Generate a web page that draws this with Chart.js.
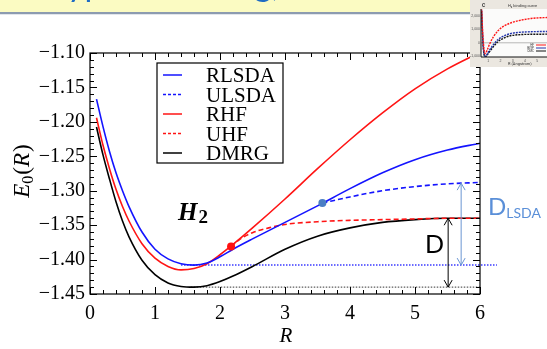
<!DOCTYPE html>
<html>
<head>
<meta charset="utf-8">
<script src="https://cdn.jsdelivr.net/npm/chart.js@4"></script>
<style>
html, body { margin: 0; padding: 0; background: #fff; }
#wrap { position: relative; width: 547px; height: 349px; overflow: hidden; }
#chart { position: absolute; left: 0; top: 0; }
#inset { position: absolute; left: 470px; top: 0; }
</style>
</head>
<body>
<div id="wrap">
<canvas id="chart" width="547" height="349"></canvas>
<canvas id="inset" width="77" height="67"></canvas>
</div>
<script>
// H2 binding curves
var rGrid = [0.1, 0.2, 0.3, 0.4, 0.5, 0.6, 0.8, 1.0, 1.2, 1.4, 1.6, 1.8, 2.0, 2.2, 2.5, 3.0, 3.5, 4.0, 4.5, 5.0, 5.5, 6.0];
var rlsda = [-1.167, -1.207, -1.243, -1.274, -1.300, -1.323, -1.360, -1.385, -1.399, -1.406, -1.408, -1.405, -1.396, -1.385, -1.370, -1.346, -1.322, -1.297, -1.274, -1.255, -1.241, -1.231];
var rhf = [-1.194, -1.234, -1.268, -1.298, -1.323, -1.344, -1.377, -1.398, -1.410, -1.415, -1.413, -1.406, -1.393, -1.378, -1.354, -1.312, -1.268, -1.226, -1.187, -1.152, -1.123, -1.099];
var dmrg = [-1.2075, -1.248, -1.283, -1.316, -1.344, -1.367, -1.401, -1.422, -1.434, -1.439, -1.440, -1.438, -1.432, -1.424, -1.410, -1.385, -1.366, -1.354, -1.346, -1.342, -1.340, -1.340];

var rUlsda = [3.575, 4.0, 4.5, 5.0, 5.5, 6.0];
var ulsda = [-1.318, -1.309, -1.300, -1.294, -1.290, -1.288];
var rUhf = [2.17, 2.3, 2.5, 2.75, 3.0, 3.5, 4.0, 4.5, 5.0, 5.5, 6.0];
var uhf = [-1.381, -1.371, -1.361, -1.354, -1.349, -1.345, -1.343, -1.342, -1.341, -1.340, -1.340];

var lsdaSplit = [3.575, -1.318];
var hfSplit = [2.17, -1.381];

var lsdaLevel = -1.408, lsdaLevelR = [1.4, 6.26];
var dmrgLevel = -1.440, dmrgLevelR = [1.55, 6.0];
var dmrgArrow = [5.51, -1.340, -1.440];
var lsdaArrow = [5.71, -1.289, -1.408];

var xTicks = [0, 1, 2, 3, 4, 5, 6];
var yTicks = [-1.45, -1.40, -1.35, -1.30, -1.25, -1.20, -1.15, -1.10];

// inset (small picture in the corner)
var insetR = [0.45, 0.55, 0.65, 0.75, 0.9, 1.1, 1.4, 1.8, 2.3, 2.8, 3.5, 4.5, 6.0];
var insetHF = [2600, 600, -500, -800, -550, -100, 420, 900, 1250, 1460, 1640, 1800, 1880];
var insetBLYP = [2400, 200, -800, -1000, -850, -550, -150, 250, 520, 680, 770, 820, 840];
var insetDMC = [2300, 100, -850, -1020, -900, -650, -300, 100, 360, 520, 600, 630, 640];
var insetXTicks = [1, 2, 3, 4, 5];
var insetYTicks = [-1000, 0, 1000, 2000];

var serif = 'Liberation Serif';
var BLUE = '#1414ff', RED = '#ff1414';

function pts(xs, ys) {
    return xs.map((x, i) => ({x: x, y: ys[i]}));
}

function curve(label, xs, ys, color, dash) {
    return {
        label: label, inLegend: true,
        data: pts(xs, ys),
        borderColor: color, borderWidth: 1.6, borderDash: dash,
        pointRadius: 0, cubicInterpolationMode: 'monotone', fill: false
    };
}

function drawParts(c, parts, x, y) {
    parts.forEach(p => {
        c.font = p.font;
        c.fillText(p.t, x, y + (p.dy || 0));
        x += c.measureText(p.t).width + (p.gap || 0);
    });
}

function partsWidth(c, parts) {
    var w = 0;
    parts.forEach(p => { c.font = p.font; w += c.measureText(p.t).width + (p.gap || 0); });
    return w;
}

function arrow(c, x, y1, y2, color) {
    c.save();
    c.strokeStyle = color;
    c.lineWidth = 1;
    c.beginPath();
    c.moveTo(x, y1); c.lineTo(x, y2);
    c.moveTo(x - 4, y1 + 7); c.lineTo(x, y1); c.lineTo(x + 4, y1 + 7);
    c.moveTo(x - 4, y2 - 7); c.lineTo(x, y2); c.lineTo(x + 4, y2 - 7);
    c.stroke();
    c.restore();
}

var decor = {
    id: 'decor',
    beforeDraw(chart) {
        var c = chart.ctx;
        c.save();
        c.fillStyle = '#fff';
        c.fillRect(0, 0, chart.width, chart.height);
        // slide banner: only the descenders of its title peek into view
        c.fillStyle = '#fbfbc2';
        c.fillRect(0, 0, chart.width, 12);
        c.fillStyle = '#8c9bb0';
        c.fillRect(0, 12, chart.width, 2);
        c.fillStyle = '#e2e6ec';
        c.fillRect(0, 14, chart.width, 1);
        c.beginPath();
        c.rect(0, 0, chart.width, 11.5);
        c.clip();
        c.textAlign = 'left';
        c.textBaseline = 'alphabetic';
        c.font = '34px Lato';
        c.fillStyle = '#1f6cc4';
        var w0 = c.measureText('T').width;
        c.fillText('Typical binding,', 70 - w0, -4);
        c.restore();
    },
    afterDatasetsDraw(chart) {
        var c = chart.ctx, a = chart.chartArea;
        var xs = chart.scales.x, ys = chart.scales.y;
        c.save();
        c.textAlign = 'left';
        c.textBaseline = 'alphabetic';
        // frame
        c.strokeStyle = '#000';
        c.lineWidth = 1.2;
        c.strokeRect(a.left, a.top, a.right - a.left, a.bottom - a.top);
        // inward ticks on all sides
        c.lineWidth = 1;
        c.beginPath();
        for (var i = 0; i <= 30; i++) {
            var px = Math.round(xs.getPixelForValue(i * 0.2)) + 0.5;
            var len = i % 5 === 0 ? 7 : 4;
            c.moveTo(px, a.bottom); c.lineTo(px, a.bottom - len);
            c.moveTo(px, a.top); c.lineTo(px, a.top + len);
        }
        for (var j = 0; j <= 35; j++) {
            var py = Math.round(ys.getPixelForValue(-1.45 + j * 0.01)) + 0.5;
            var l2 = j % 5 === 0 ? 7 : 4;
            c.moveTo(a.left, py); c.lineTo(a.left + l2, py);
            c.moveTo(a.right, py); c.lineTo(a.right - l2, py);
        }
        c.stroke();

        // legend
        c.lineWidth = 1.2;
        c.strokeRect(157, 63, 126, 100);
        var rows = chart.data.datasets.filter(d => d.inLegend);
        rows.forEach((d, k) => {
            var yy = 75 + k * 19.5;
            c.strokeStyle = d.borderColor;
            c.lineWidth = 1.5;
            c.setLineDash(d.borderDash && d.borderDash.length ? [3, 2] : []);
            c.beginPath(); c.moveTo(163, yy); c.lineTo(182, yy); c.stroke();
            c.setLineDash([]);
            c.fillStyle = '#000';
            c.font = '21px ' + serif;
            c.fillText(d.label, 206, yy + 7);
        });

        // binding-energy arrows
        arrow(c, xs.getPixelForValue(dmrgArrow[0]), ys.getPixelForValue(dmrgArrow[1]), ys.getPixelForValue(dmrgArrow[2]), '#000');
        arrow(c, xs.getPixelForValue(lsdaArrow[0]), ys.getPixelForValue(lsdaArrow[1]), ys.getPixelForValue(lsdaArrow[2]), '#6a96d2');

        c.fillStyle = '#000';
        c.font = '25px Lato';
        c.fillText('D', 425, 253);
        c.fillStyle = '#5a8fd8';
        drawParts(c, [{t: 'D', font: '24px Lato'}, {t: 'LSDA', font: '14px Lato', dy: 3}], 488, 215);

        // molecule label
        c.fillStyle = '#000';
        drawParts(c, [{t: 'H', font: 'bold italic 25px ' + serif, gap: 1}, {t: '2', font: 'bold 19px ' + serif, dy: 3}], 178, 220);

        // axis titles
        c.save();
        c.translate(29, 171);
        c.rotate(-Math.PI / 2);
        var yParts = [
            {t: 'E', font: 'italic 23px ' + serif},
            {t: '0', font: '16px ' + serif, dy: 4, gap: 1},
            {t: '(', font: '23px ' + serif},
            {t: 'R', font: 'italic 23px ' + serif, gap: 1},
            {t: ')', font: '23px ' + serif}
        ];
        drawParts(c, yParts, -partsWidth(c, yParts) / 2, 0);
        c.restore();
        c.font = 'italic 21px ' + serif;
        c.textAlign = 'center';
        c.fillText('R', 286, 342);
        c.restore();
    }
};

new Chart(document.getElementById('chart').getContext('2d'), {
    type: 'line',
    data: {
        datasets: [
            {data: pts([lsdaSplit[0]], [lsdaSplit[1]]), showLine: false, pointRadius: 4, pointBackgroundColor: '#4a7ec4', pointBorderWidth: 0},
            {data: pts([hfSplit[0]], [hfSplit[1]]), showLine: false, pointRadius: 4, pointBackgroundColor: '#ff1010', pointBorderWidth: 0},
            curve('RLSDA', rGrid, rlsda, BLUE, []),
            curve('ULSDA', rUlsda, ulsda, BLUE, [5, 3]),
            curve('RHF', rGrid, rhf, RED, []),
            curve('UHF', rUhf, uhf, RED, [5, 3]),
            curve('DMRG', rGrid, dmrg, '#000', []),
            {data: pts(lsdaLevelR, [lsdaLevel, lsdaLevel]), borderColor: 'rgba(70,70,255,0.8)', borderWidth: 2, borderDash: [1.5, 1.5], pointRadius: 0, clip: false},
            {data: pts(dmrgLevelR, [dmrgLevel, dmrgLevel]), borderColor: '#333', borderWidth: 1, borderDash: [1.5, 1.5], pointRadius: 0}
        ]
    },
    options: {
        responsive: false,
        animation: false,
        devicePixelRatio: 1,
        layout: {padding: {left: 0, top: 53, right: 67, bottom: 0}},
        plugins: {legend: {display: false}, tooltip: {enabled: false}},
        scales: {
            x: {
                type: 'linear', min: 0, max: 6,
                afterBuildTicks: s => { s.ticks = xTicks.map(v => ({value: v})); },
                afterFit: s => { s.height = 55; },
                grid: {display: false, drawTicks: false},
                border: {display: false},
                ticks: {font: {family: serif, size: 20}, color: '#000', padding: 8, maxRotation: 0, autoSkip: false,
                    callback: v => String(v)}
            },
            y: {
                type: 'linear', min: -1.45, max: -1.10,
                afterBuildTicks: s => { s.ticks = yTicks.map(v => ({value: v})); },
                afterFit: s => { s.width = 90; },
                grid: {display: false, drawTicks: false},
                border: {display: false},
                ticks: {font: {family: serif, size: 20}, color: '#000', padding: 5, autoSkip: false,
                    callback: v => (v < 0 ? '\u2212' : '') + Math.abs(v).toFixed(2)}
            }
        }
    },
    plugins: [decor]
});

// small inset picture
var insetDecor = {
    id: 'insetDecor',
    beforeDraw(chart) {
        var c = chart.ctx, a = chart.chartArea;
        c.save();
        c.fillStyle = '#ebe7e0';
        c.fillRect(0, 0, chart.width, chart.height);
        c.fillStyle = '#fbfbfa';
        c.fillRect(a.left, a.top, a.right - a.left, a.bottom - a.top);
        c.restore();
    },
    afterDatasetsDraw(chart) {
        var c = chart.ctx, a = chart.chartArea;
        c.save();
        c.textBaseline = 'alphabetic';
        c.strokeStyle = '#111';
        c.lineWidth = 1;
        c.beginPath();
        c.moveTo(a.left, a.top); c.lineTo(a.left, a.bottom); c.lineTo(a.right, a.bottom);
        c.stroke();
        c.fillStyle = '#333';
        c.textAlign = 'left';
        c.font = 'bold 5px Roboto';
        c.fillText('C', 12, 7);
        c.font = '4px Roboto';
        c.fillText('H\u2082 binding curve', 38, 7);
        c.fillText('R (Angstrom)', 38, 65);
        var names = ['HF', 'BLYP', 'DMC'];
        var cols = [RED, '#2233aa', '#111'];
        names.forEach((n, k) => {
            c.fillStyle = '#333';
            c.textAlign = 'right';
            c.font = '3px Roboto';
            c.fillText(n, 64, 46 + k * 3);
            c.strokeStyle = cols[k];
            c.lineWidth = 1;
            c.beginPath(); c.moveTo(66, 45 + k * 3); c.lineTo(76, 45 + k * 3); c.stroke();
        });
        c.restore();
    }
};

function insetLine(ys, color) {
    return {data: pts(insetR, ys), borderColor: color, borderWidth: 1.4, borderDash: [2, 1], pointRadius: 0, cubicInterpolationMode: 'monotone'};
}

new Chart(document.getElementById('inset').getContext('2d'), {
    type: 'line',
    data: {
        datasets: [
            insetLine(insetHF, RED),
            insetLine(insetBLYP, '#2233aa'),
            insetLine(insetDMC, '#111'),
            {data: pts([0.4, 6], [0, 0]), borderColor: '#999', borderWidth: 0.7, pointRadius: 0}
        ]
    },
    options: {
        responsive: false,
        animation: false,
        devicePixelRatio: 1,
        layout: {padding: {left: 0, top: 9, right: 0, bottom: 0}},
        plugins: {legend: {display: false}, tooltip: {enabled: false}},
        scales: {
            x: {
                type: 'linear', min: 0.4, max: 5.8,
                afterBuildTicks: s => { s.ticks = insetXTicks.map(v => ({value: v})); },
                afterFit: s => { s.height = 10; },
                grid: {display: false, drawTicks: false}, border: {display: false},
                ticks: {font: {size: 3.5}, color: '#555', padding: 2, autoSkip: false, maxRotation: 0}
            },
            y: {
                type: 'linear', min: -1050, max: 2500,
                afterBuildTicks: s => { s.ticks = insetYTicks.map(v => ({value: v})); },
                afterFit: s => { s.width = 11; },
                grid: {display: false, drawTicks: false}, border: {display: false},
                ticks: {font: {size: 3.5}, color: '#555', padding: 1, autoSkip: false}
            }
        }
    },
    plugins: [insetDecor]
});
</script>
</body>
</html>
